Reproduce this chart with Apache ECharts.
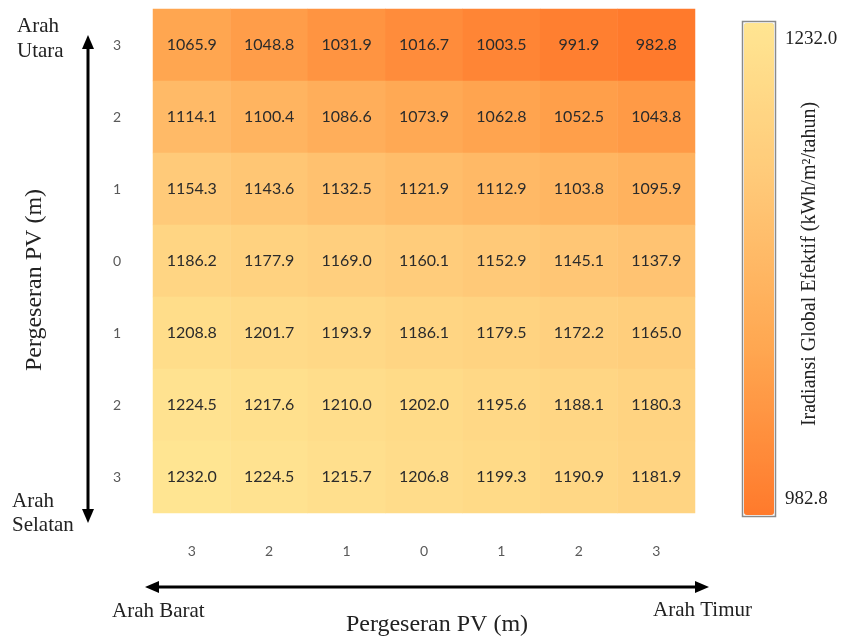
<!DOCTYPE html>
<html>
<head>
<meta charset="utf-8">
<title>Iradiansi Global Efektif</title>
<script src="https://cdn.jsdelivr.net/npm/echarts@6/dist/echarts.min.js"></script>
<style>
  html, body { margin: 0; padding: 0; background: #ffffff; }
  #chart { width: 843px; height: 638px; }
</style>
</head>
<body>
<div id="chart"></div>
<script>
// Shift of the PV array, west (Barat) -> east (Timur)
const xLabels = ['3', '2', '1', '0', '1', '2', '3'];
// Shift of the PV array, south (Selatan, bottom) -> north (Utara, top)
const yLabels = ['3', '2', '1', '0', '1', '2', '3'];

// Effective global irradiance (kWh/m²/tahun), one array per row, north row first
const rowUtara3   = [1065.9, 1048.8, 1031.9, 1016.7, 1003.5, 991.9, 982.8];
const rowUtara2   = [1114.1, 1100.4, 1086.6, 1073.9, 1062.8, 1052.5, 1043.8];
const rowUtara1   = [1154.3, 1143.6, 1132.5, 1121.9, 1112.9, 1103.8, 1095.9];
const rowTengah   = [1186.2, 1177.9, 1169.0, 1160.1, 1152.9, 1145.1, 1137.9];
const rowSelatan1 = [1208.8, 1201.7, 1193.9, 1186.1, 1179.5, 1172.2, 1165.0];
const rowSelatan2 = [1224.5, 1217.6, 1210.0, 1202.0, 1195.6, 1188.1, 1180.3];
const rowSelatan3 = [1232.0, 1224.5, 1215.7, 1206.8, 1199.3, 1190.9, 1181.9];

const rowsTopDown = [rowUtara3, rowUtara2, rowUtara1, rowTengah, rowSelatan1, rowSelatan2, rowSelatan3];

const scaleMin = 982.8;
const scaleMax = 1232.0;

// [xIndex, yIndex, value]; y index 0 is the bottom row
const cells = [];
rowsTopDown.forEach(function (row, r) {
  row.forEach(function (v, c) {
    cells.push([c, rowsTopDown.length - 1 - r, v]);
  });
});

const serif = '"Liberation Serif", "DejaVu Serif", serif';
const sans = 'Lato, "Open Sans", "Liberation Sans", sans-serif';

const grid = { left: 153, top: 9, width: 542, height: 504 };
const bar = { x: 744, y: 23, w: 30, h: 492 };

const chart = echarts.init(document.getElementById('chart'), null, { renderer: 'canvas' });

chart.setOption({
  backgroundColor: '#ffffff',
  animation: false,
  grid: grid,
  xAxis: {
    type: 'category',
    data: xLabels,
    axisLine: { show: false },
    axisTick: { show: false },
    splitLine: { show: false },
    axisLabel: { margin: 31, color: '#595959', fontSize: 14, fontFamily: sans }
  },
  yAxis: {
    type: 'category',
    data: yLabels,
    axisLine: { show: false },
    axisTick: { show: false },
    splitLine: { show: false },
    axisLabel: { margin: 32, color: '#595959', fontSize: 14, fontFamily: sans }
  },
  visualMap: {
    type: 'continuous',
    min: scaleMin,
    max: scaleMax,
    orient: 'vertical',
    left: bar.x,
    top: bar.y,
    itemWidth: bar.w,
    itemHeight: bar.h,
    padding: 0,
    calculable: false,
    showLabel: false,
    text: null,
    inRange: { color: ['#FF7A2C', '#FFA650', '#FFC877', '#FFE592'] }
  },
  series: [{
    type: 'heatmap',
    data: cells,
    itemStyle: { borderWidth: 0 },
    label: {
      show: true,
      color: '#2b2b2b',
      fontSize: 16,
      fontFamily: sans,
      formatter: function (p) { return p.value[2].toFixed(1); }
    },
    emphasis: { disabled: true }
  }],
  graphic: [
    // colour bar frame
    { type: 'rect', shape: { x: bar.x - 1.5, y: bar.y - 1.5, width: bar.w + 3, height: bar.h + 3 },
      style: { fill: null, stroke: '#8a8a8a', lineWidth: 1.5 }, z: 100 },
    { type: 'text', left: 785, top: 30,
      style: { text: scaleMax.toFixed(1), font: '19px ' + serif, fill: '#222' } },
    { type: 'text', left: 785, top: 490,
      style: { text: scaleMin.toFixed(1), font: '19px ' + serif, fill: '#222' } },
    { type: 'text', x: 810, y: 264, rotation: Math.PI / 2,
      style: { text: 'Iradiansi Global Efektif (kWh/m²/tahun)', font: '20px ' + serif,
               fill: '#222', align: 'center', verticalAlign: 'middle' } },

    // north-south arrow
    { type: 'line', shape: { x1: 88, y1: 46, x2: 88, y2: 514 }, style: { stroke: '#000', lineWidth: 3 } },
    { type: 'polygon', shape: { points: [[88, 35], [82, 49], [94, 49]] }, style: { fill: '#000' } },
    { type: 'polygon', shape: { points: [[88, 523], [82, 509], [94, 509]] }, style: { fill: '#000' } },
    { type: 'text', left: 17, top: 14, style: { text: 'Arah\nUtara', font: '21px ' + serif, fill: '#222', lineHeight: 25 } },
    { type: 'text', left: 12, top: 489, style: { text: 'Arah\nSelatan', font: '21px ' + serif, fill: '#222', lineHeight: 24 } },
    { type: 'text', x: 35, y: 280, rotation: Math.PI / 2,
      style: { text: 'Pergeseran PV (m)', font: '24px ' + serif, fill: '#222', align: 'center', verticalAlign: 'middle' } },

    // west-east arrow
    { type: 'line', shape: { x1: 155, y1: 587, x2: 698, y2: 587 }, style: { stroke: '#000', lineWidth: 3 } },
    { type: 'polygon', shape: { points: [[145, 587], [159, 581], [159, 593]] }, style: { fill: '#000' } },
    { type: 'polygon', shape: { points: [[709, 587], [695, 581], [695, 593]] }, style: { fill: '#000' } },
    { type: 'text', left: 112, top: 601, style: { text: 'Arah Barat', font: '21px ' + serif, fill: '#222' } },
    { type: 'text', left: 653, top: 600, style: { text: 'Arah Timur', font: '21px ' + serif, fill: '#222' } },
    { type: 'text', x: 437, y: 625,
      style: { text: 'Pergeseran PV (m)', font: '24px ' + serif, fill: '#222', align: 'center', verticalAlign: 'middle' } }
  ]
});
</script>
</body>
</html>
